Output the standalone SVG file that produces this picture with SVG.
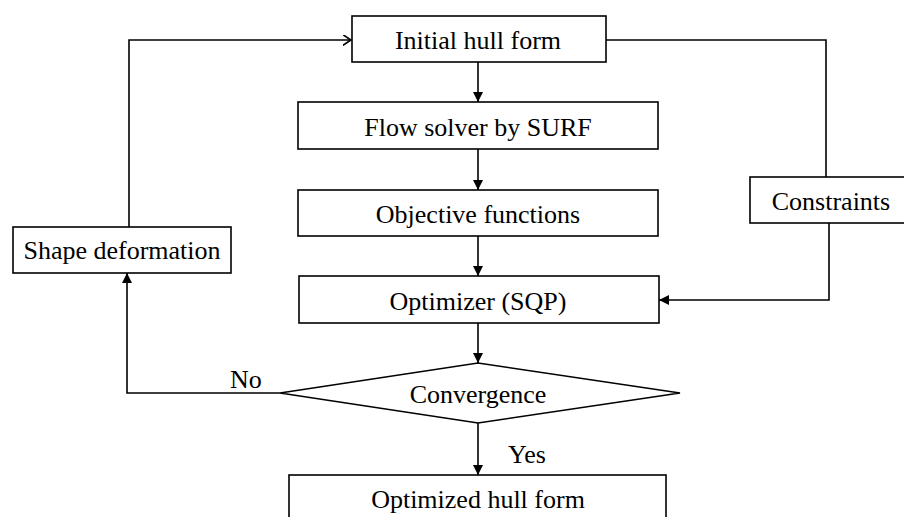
<svg xmlns="http://www.w3.org/2000/svg" width="904" height="517" viewBox="0 0 904 517">
<style>
.box{fill:#fff;stroke:#000;stroke-width:1.6}
.lbl{font-family:"Liberation Serif","Times New Roman",serif;font-size:26px;fill:#000;text-anchor:middle}
.tag{font-family:"Liberation Serif","Times New Roman",serif;font-size:26px;fill:#000}
.ln{fill:none;stroke:#000;stroke-width:1.6}
</style>
<defs>
<marker id="ah" viewBox="0 0 10 10" refX="10" refY="5" markerWidth="12" markerHeight="10" markerUnits="userSpaceOnUse" orient="auto">
<path d="M0,0 L10,5 L0,10 Z" fill="#000"/>
</marker>
<marker id="oh" viewBox="0 0 10 12" refX="9" refY="6" markerWidth="9" markerHeight="11" markerUnits="userSpaceOnUse" orient="auto">
<path d="M0,0 L9,6 L0,12" fill="none" stroke="#000" stroke-width="1.8"/>
</marker>
</defs>
<rect width="904" height="517" fill="#fff"/>
<g id="connectors">
<line class="ln" x1="478" y1="62" x2="478" y2="102" marker-end="url(#ah)"/>
<line class="ln" x1="478" y1="149" x2="478" y2="190" marker-end="url(#ah)"/>
<line class="ln" x1="478" y1="236" x2="478" y2="276" marker-end="url(#ah)"/>
<line class="ln" x1="478" y1="323" x2="478" y2="363" marker-end="url(#ah)"/>
<line class="ln" x1="478" y1="423" x2="478" y2="475" marker-end="url(#ah)"/>
<polyline class="ln" points="280,393 127,393 127,273" marker-end="url(#ah)"/>
<polyline class="ln" points="129,227 129,40 351,40" marker-end="url(#oh)"/>
<polyline class="ln" points="606,40 826,40 826,177"/>
<polyline class="ln" points="829,223 829,300 659,300" marker-end="url(#ah)"/>
<text class="tag" x="230" y="388">No</text>
<text class="tag" x="508" y="463">Yes</text>
</g>
<g id="initial">
<rect class="box" x="352" y="16" width="254" height="46"/>
<text class="lbl" x="478" y="49">Initial hull form</text>
</g>
<g id="flow">
<rect class="box" x="298" y="102" width="360" height="47"/>
<text class="lbl" x="478" y="135.5">Flow solver by SURF</text>
</g>
<g id="objective">
<rect class="box" x="298" y="190" width="360" height="46"/>
<text class="lbl" x="478" y="223">Objective functions</text>
</g>
<g id="optimizer">
<rect class="box" x="299" y="276" width="360" height="47"/>
<text class="lbl" x="478" y="309.5">Optimizer (SQP)</text>
</g>
<g id="convergence">
<polygon class="box" points="280,393 478,363 680,393 478,423"/>
<text class="lbl" x="478" y="403">Convergence</text>
</g>
<g id="optimized">
<rect class="box" x="289" y="475" width="377" height="60"/>
<text class="lbl" x="478" y="508">Optimized hull form</text>
</g>
<g id="shape">
<rect class="box" x="13" y="227" width="218" height="46"/>
<text class="lbl" x="122" y="259">Shape deformation</text>
</g>
<g id="constraints">
<rect class="box" x="750" y="177" width="170" height="46"/>
<text class="lbl" x="831" y="210">Constraints</text>
</g>
</svg>
